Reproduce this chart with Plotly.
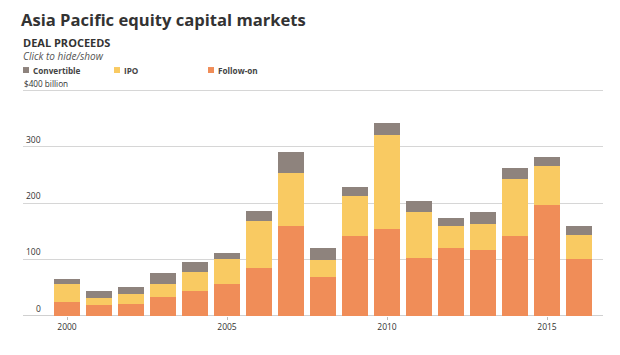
import plotly.graph_objects as go

years = list(range(2000, 2017))
follow_on = [25, 19.5, 20, 32.5, 43, 55.5, 84.5, 160, 69, 142, 154, 102, 121, 116, 142, 196, 101]
ipo = [31, 12.5, 19, 23.5, 34.5, 44.5, 83, 94, 30.5, 70, 167, 82, 39, 47, 101, 69, 41.5]
convertible = [10, 11, 12.5, 19, 17, 11, 18.5, 36, 20.5, 16, 21, 20, 14, 22, 20, 16.5, 16.5]

series_names = ["Follow-on", "IPO", "Convertible"]
series_values = [follow_on, ipo, convertible]
series_colors = ["#F08D58", "#F9CA62", "#8E837D"]

y_ticks = [0, 100, 200, 300, 400]
y_tick_labels = ["0", "100", "200", "300", "$400 billion"]
x_ticks = [2000, 2005, 2010, 2015]

FONT = "Open Sans"
OFF = 8  # page body margin
W, H = 620 - 2 * OFF, 355 - 2 * OFF
Y_MIN, Y_MAX = -0.6, 408
ppu = (316 - 90.5) / 400.0  # screen pixels per unit
top_s = 316 - Y_MAX * ppu
bot_s = 316 - Y_MIN * ppu
L = 23 - OFF
R = W - (603 - OFF)
T = top_s - OFF
B = H - (bot_s - OFF)
pw, ph = W - L - R, H - T - B

def px(xs):
    return (xs - OFF - L) / pw

def py(ys):
    return (H - B - (ys - OFF)) / ph

fig = go.Figure()
for name, vals, col in zip(series_names, series_values, series_colors):
    fig.add_trace(go.Bar(x=years, y=vals, name=name, marker=dict(color=col, line=dict(width=0)),
                         showlegend=False))

annotations = []
for v, lab in zip(y_ticks, y_tick_labels):
    if v == 400:
        annotations.append(dict(x=px(22), xref="paper", y=v, yref="y", text=lab, showarrow=False,
                                xanchor="left", yanchor="bottom", yshift=0,
                                font=dict(family=FONT, size=8.2, color="#333")))
    else:
        annotations.append(dict(x=px(43), xref="paper", y=v, yref="y", text=lab, showarrow=False,
                                xanchor="right", yanchor="bottom", yshift=0,
                                font=dict(family=FONT, size=8.5, color="#333")))

annotations.append(dict(x=px(21), xref="paper", y=py(42), yref="paper", text="<b>DEAL PROCEEDS</b>",
                        showarrow=False, xanchor="left", yanchor="middle",
                        font=dict(family=FONT, size=11, color="#333")))
annotations.append(dict(x=px(21), xref="paper", y=py(56), yref="paper", text="<i>Click to hide/show</i>",
                        showarrow=False, xanchor="left", yanchor="middle",
                        font=dict(family=FONT, size=10, color="#555")))

legend_items = [("Convertible", series_colors[2], 23), ("IPO", series_colors[1], 114), ("Follow-on", series_colors[0], 208)]
shapes = []
for name, col, x0 in legend_items:
    shapes.append(dict(type="rect", xref="paper", yref="paper", x0=px(x0), x1=px(x0 + 6),
                       y0=py(73), y1=py(67), fillcolor=col, line=dict(width=0)))
    annotations.append(dict(x=px(x0 + 8), xref="paper", y=py(70), yref="paper", text="<b>" + name + "</b>",
                            showarrow=False, xanchor="left", yanchor="middle",
                            font=dict(family=FONT, size=8.2, color="#444")))

fig.update_layout(
    width=W, height=H,
    margin=dict(l=L, r=R, t=T, b=B),
    paper_bgcolor="white", plot_bgcolor="white",
    barmode="stack", bargap=0.19,
    title=dict(text="<b>Asia Pacific equity capital markets</b>", x=(21 - OFF) / W, xanchor="left",
               y=1 - (20 - OFF) / H, yanchor="middle", xref="container", yref="container",
               font=dict(family=FONT, size=16.6, color="#333")),
    xaxis=dict(range=[1998.625, 2016.75], tickvals=x_ticks, ticks="outside", ticklen=3,
               tickcolor="#bbb", showgrid=False, zeroline=False, showline=False,
               tickfont=dict(family=FONT, size=8.5, color="#333")),
    yaxis=dict(range=[Y_MIN, Y_MAX], tickvals=y_ticks[1:], showticklabels=False, showgrid=True,
               gridcolor="#d6d6d6", gridwidth=1.2, zeroline=True, zerolinecolor="#d0d0d0",
               zerolinewidth=1.2, showline=False),
    annotations=annotations, shapes=shapes,
)

fig.write_html("out.html")
